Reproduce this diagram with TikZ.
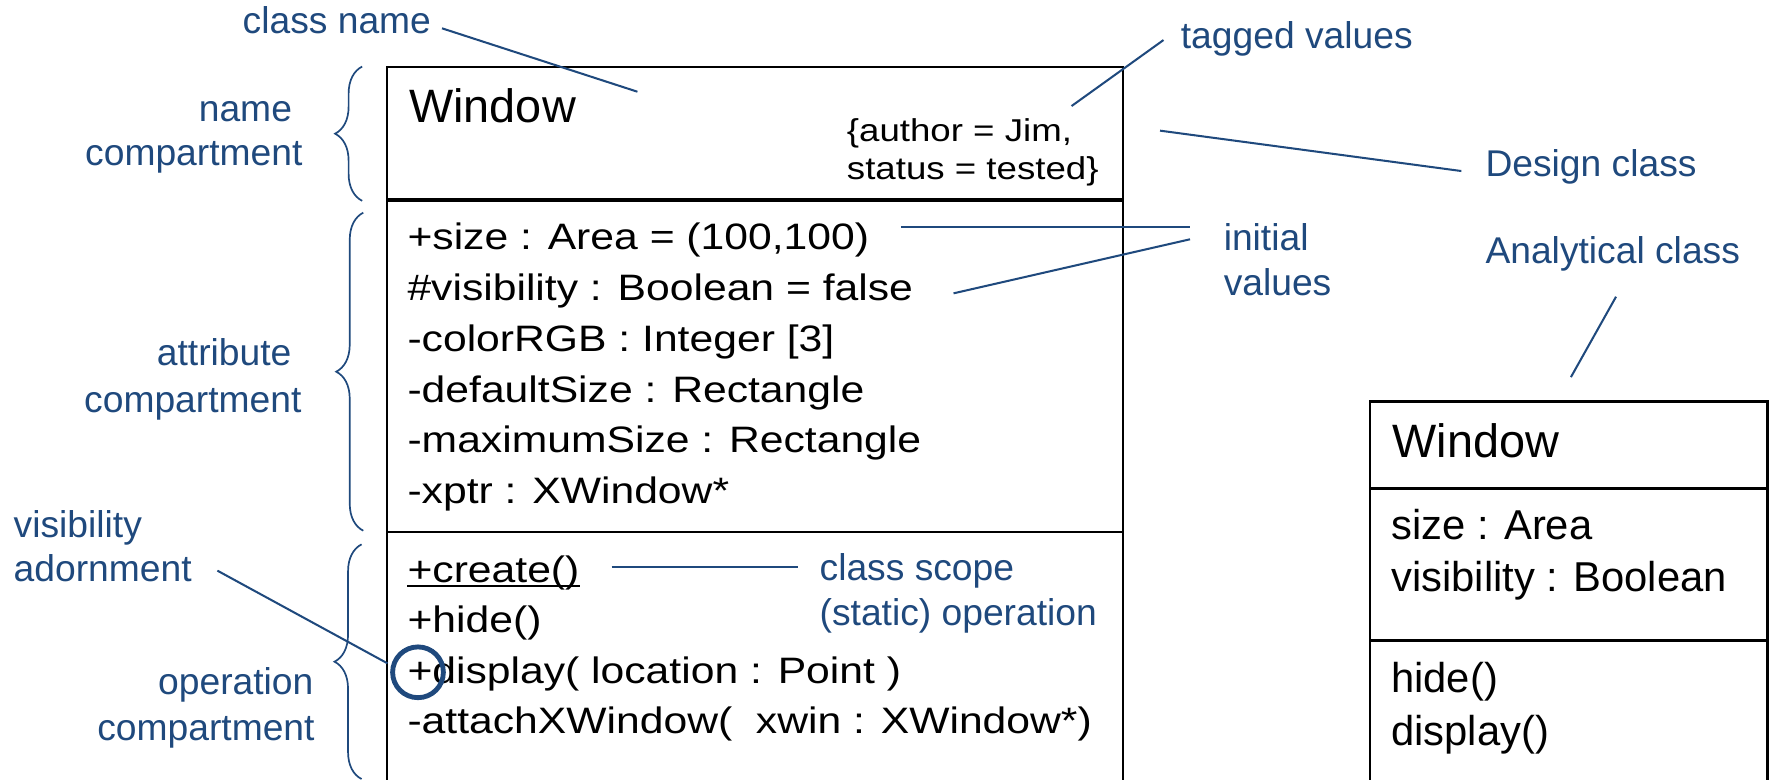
\documentclass[tikz,border=0pt]{standalone}
\usepackage{fontspec}
\setmainfont{Liberation Sans}
\newfontfamily\widefont[FakeStretch=1.16]{Liberation Sans}
\usetikzlibrary{decorations.pathreplacing}
\definecolor{navy}{RGB}{31,73,125}
\begin{document}
\begin{tikzpicture}[x=1pt,y=-1pt,
  lbl/.style={text=navy,font=\fontsize{33}{40}\selectfont,inner sep=0pt},
  lblW/.style={lbl,anchor=base west},
  lblE/.style={lbl,anchor=base east},
  attr/.style={font=\widefont\fontsize{32.6}{39}\selectfont,inner sep=0pt,anchor=base west},
  tagv/.style={font=\widefont\fontsize{28}{33}\selectfont,inner sep=0pt,anchor=base west},
  title/.style={font=\fontsize{41.5}{48}\selectfont,inner sep=0pt,anchor=base west},
  rattr/.style={font=\fontsize{37}{44}\selectfont,inner sep=0pt,anchor=base west},
  boxline/.style={line width=2pt,black},
  thickdiv/.style={line width=3pt,black},
  pointer/.style={navy,line width=1.8pt},
  bracestyle/.style={navy,line width=1.5pt,decorate,decoration={brace,amplitude=24pt}}
]
\useasboundingbox (0,0) rectangle (1568,690.5);

% ---------- main (design) class box ----------
\coordinate (mTL) at (343.3,59.7);
\coordinate (mTR) at (995.7,59.7);
\coordinate (mBL) at (343.3,692);
\coordinate (mBR) at (995.7,692);
\coordinate (d1L) at (343.3,177.3);
\coordinate (d1R) at (995.7,177.3);
\coordinate (d2L) at (343.3,471.3);
\coordinate (d2R) at (995.7,471.3);
\draw[boxline] (mBL) -- (mTL) -- (mTR) -- (mBR);
\draw[thickdiv] (d1L) -- (d1R);
\draw[boxline] (d2L) -- (d2R);

\node[title] (mname) at (362.6,108.7) {Window};
\node[tagv] (tag1) at (750.5,125.6) {\{author = Jim,};
\node[tagv] (tag2) at (750.5,159) {status = tested\}};

\node[attr] (a1) at (361,221.5) {+size : Area = (100,100)};
\node[attr] (a2) at (361,266.5) {\#visibility : Boolean = false};
\node[attr] (a3) at (361,311.5) {-colorRGB : Integer [3]};
\node[attr] (a4) at (361,356.5) {-defaultSize : Rectangle};
\node[attr] (a5) at (361,401.5) {-maximumSize : Rectangle};
\node[attr] (a6) at (361,446.5) {-xptr : XWindow*};

\node[attr] (o1) at (361,516.5) {+create()};
\draw[line width=1.8pt] ([yshift=-3pt]o1.base west) -- ([yshift=-3pt]o1.base east);
\node[attr] (o2) at (361,561) {+hide()};
\node[attr] (o3) at (361,605.5) {+display(\ location : Point )};
\node[attr] (o4) at (361,650) {-attachXWindow(\ \ xwin : XWindow*)};

% ---------- right (analytical) class box ----------
\coordinate (rTL) at (1214.5,355.9);
\coordinate (rTR) at (1566.6,355.9);
\coordinate (rBL) at (1214.5,692);
\coordinate (rBR) at (1566.6,692);
\coordinate (r1L) at (1214.5,433);
\coordinate (r1R) at (1566.6,433);
\coordinate (r2L) at (1214.5,567.8);
\coordinate (r2R) at (1566.6,567.8);
\draw[boxline] (rBL) -- (rTL) -- (rTR) -- (rBR);
\draw[boxline] (r1L) -- (r1R);
\draw[boxline] (r2L) -- (r2R);

\node[title] (rname) at (1234,405.4) {Window};
\node[rattr] (ra1) at (1233,478) {size : Area};
\node[rattr] (ra2) at (1233,524.6) {visibility : Boolean};
\node[rattr] (ro1) at (1233,614) {hide()};
\node[rattr] (ro2) at (1233,660.5) {display()};

% ---------- annotation labels ----------
\node[lblW] (lclass) at (214.9,29.5) {class name};
\node[lblW] (ltag) at (1046.5,42.8) {tagged values};
\node[lblW] (ldesign) at (1316.5,156.6) {Design class};
\node[lblW] (linit1) at (1084.5,221.6) {initial};
\node[lblW] (linit2) at (1084.5,261.5) {values};
\node[lblW] (lanal) at (1316.5,233.4) {Analytical class};
\node[lblE] (lname1) at (259,107.8) {name};
\node[lblE] (lname2) at (268.3,146.8) {compartment};
\node[lblE] (lattr1) at (258.5,324.1) {attribute};
\node[lblE] (lattr2) at (267.4,365.5) {compartment};
\node[lblW] (lvis1) at (11.9,476.3) {visibility};
\node[lblW] (lvis2) at (11.9,515.6) {adornment};
\node[lblE] (lop1) at (278,616) {operation};
\node[lblE] (lop2) at (279,656) {compartment};
\node[lblW] (lscope1) at (726.3,514.1) {class scope};
\node[lblW] (lscope2) at (726.3,554.5) {(static) operation};

% ---------- visibility adornment circle ----------
\node[circle,draw=navy,line width=4.3pt,minimum size=45pt,inner sep=0pt] (adorn) at (370.5,595.9) {};

% ---------- pointer lines ----------
\coordinate (pc1) at (391.8,25.1);  \coordinate (pc2) at (565,81.3);
\coordinate (pt1) at (1031.3,35.5); \coordinate (pt2) at (949.8,94);
\coordinate (pd1) at (1028.2,115.8);\coordinate (pd2) at (1295.3,151.6);
\coordinate (pi1) at (798.6,201.2); \coordinate (pi2) at (1054.8,201.2);
\coordinate (pj1) at (845.2,260);   \coordinate (pj2) at (1054.8,212.1);
\coordinate (pa1) at (1432.4,263);  \coordinate (pa2) at (1392.4,334.3);
\coordinate (pv1) at (192.7,505.8); \coordinate (pv2) at (343.5,588);
\coordinate (ps1) at (542.2,502.3); \coordinate (ps2) at (707.6,502.3);
\draw[pointer] (pc1) -- (pc2);
\draw[pointer] (pt1) -- (pt2);
\draw[pointer] (pd1) -- (pd2);
\draw[pointer] (pi1) -- (pi2);
\draw[pointer] (pj1) -- (pj2);
\draw[pointer] (pa1) -- (pa2);
\draw[pointer] (pv1) -- (pv2);
\draw[pointer] (ps1) -- (ps2);

% ---------- braces ----------
\coordinate (b1a) at (321,178);   \coordinate (b1b) at (321,59);
\coordinate (b2a) at (322,470.4); \coordinate (b2b) at (322,188.5);
\coordinate (b3a) at (320.5,690.5); \coordinate (b3b) at (320.5,482.5);
\draw[bracestyle] (b1a) -- (b1b);
\draw[bracestyle] (b2a) -- (b2b);
\draw[bracestyle] (b3a) -- (b3b);
\end{tikzpicture}
\end{document}
